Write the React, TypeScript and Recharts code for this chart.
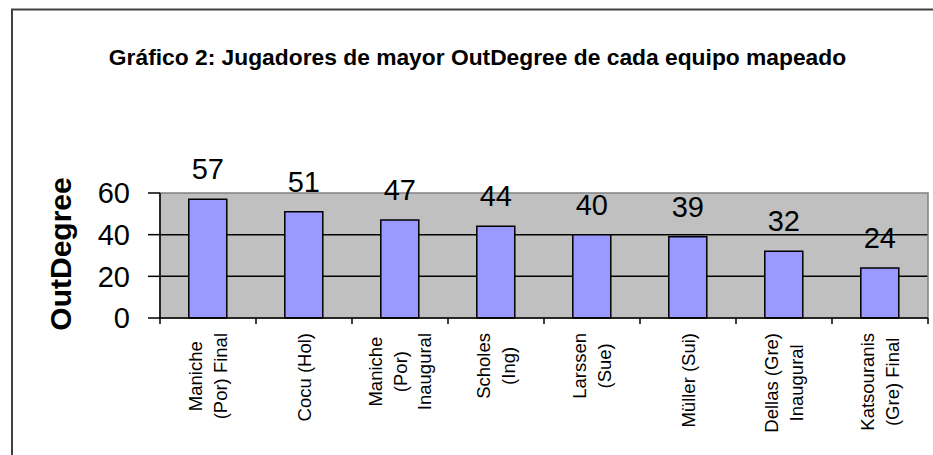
import React from "react";
import {
  BarChart,
  Bar,
  XAxis,
  YAxis,
  CartesianGrid,
  LabelList,
  ReferenceArea,
} from "recharts";

// ---- Data ----
const categories = [
  "Maniche (Por) Final",
  "Cocu (Hol)",
  "Maniche (Por) Inaugural",
  "Scholes (Ing)",
  "Larssen (Sue)",
  "Müller (Sui)",
  "Dellas (Gre) Inaugural",
  "Katsouranis (Gre) Final",
];
const outDegree = [57, 51, 47, 44, 40, 39, 32, 24];
const tickLabelLines = [
  ["Maniche", "(Por) Final"],
  ["Cocu (Hol)"],
  ["Maniche", "(Por)", "Inaugural"],
  ["Scholes", "(Ing)"],
  ["Larssen", "(Sue)"],
  ["Müller (Sui)"],
  ["Dellas (Gre)", "Inaugural"],
  ["Katsouranis", "(Gre) Final"],
];
const yTicks = [0, 20, 40, 60];
const gridValues = [20, 40];
const title = "Gráfico 2: Jugadores de mayor OutDegree de cada equipo mapeado";
const yLabel = "OutDegree";

const data = categories.map((name, i) => ({ name, value: outDegree[i] }));

// ---- Layout ----
const W = 933;
const H = 455;
const MARGIN = { top: 193, right: 5, bottom: 7, left: 0 };
const Y_AXIS_W = 160;
const X_AXIS_H = 130;
const BAND = (W - MARGIN.left - Y_AXIS_W - MARGIN.right) / categories.length;
const FONT = "'Liberation Sans', Arial, sans-serif";
const X_FS = 18.5;
const X_LINE = 24.5;

let ctx: CanvasRenderingContext2D | null = null;
function measure(s: string, font: string): number {
  if (!ctx) {
    const c = document.createElement("canvas");
    ctx = c.getContext("2d");
  }
  if (!ctx) return s.length * 9;
  ctx.font = font;
  return ctx.measureText(s).width;
}

function XTick(props: any) {
  const { x, y, payload } = props;
  const idx = categories.indexOf(payload.value);
  const lines = tickLabelLines[idx] || [String(payload.value)];
  const n = lines.length;
  const maxW = Math.max(...lines.map((l) => measure(l, `${X_FS}px 'Liberation Sans'`)));
  const cy = y + 15 + maxW / 2;
  return (
    <g>
      <line x1={x - BAND / 2} y1={y} x2={x - BAND / 2} y2={y + 6} stroke="#000" strokeWidth={1.5} />
      {idx === categories.length - 1 && (
        <line x1={x + BAND / 2} y1={y} x2={x + BAND / 2} y2={y + 6} stroke="#000" strokeWidth={1.5} />
      )}
      {lines.map((ln, i) => (
        <text
          key={i}
          transform={`translate(${x + (i - (n - 1) / 2) * X_LINE}, ${cy}) rotate(-90)`}
          textAnchor="middle"
          dominantBaseline="central"
          fontSize={X_FS}
          fontFamily={FONT}
          fill="#000"
        >
          {ln}
        </text>
      ))}
    </g>
  );
}

export default function App() {
  return (
    <div style={{ position: "absolute", left: 0, top: 0, width: W, height: H, overflow: "hidden", background: "#fff" }}>
      <div style={{ position: "absolute", left: 0, top: 0 }}>
        <BarChart width={W} height={H} data={data} margin={MARGIN} barCategoryGap="30%">
          <CartesianGrid
            fill="#c0c0c0"
            vertical={false}
            horizontalValues={gridValues}
            stroke="#000"
            strokeWidth={1.5}
          />
          <ReferenceArea y1={0} y2={60} fill="none" stroke="#808080" strokeWidth={1.5} />
          <XAxis
            dataKey="name"
            height={X_AXIS_H}
            interval={0}
            tickSize={0}
            tickMargin={0}
            tickLine={false}
            axisLine={{ stroke: "#000", strokeWidth: 1.5 }}
            tick={<XTick />}
          />
          <YAxis
            width={Y_AXIS_W}
            domain={[0, 60]}
            ticks={yTicks}
            interval={0}
            tickSize={12}
            tickMargin={18}
            axisLine={{ stroke: "#000", strokeWidth: 1.5 }}
            tickLine={{ stroke: "#000", strokeWidth: 1.5 }}
            tick={{ fontSize: 29, fontFamily: FONT, fill: "#000" }}
            label={{
              content: () => (
                <text
                  transform="translate(60, 254) rotate(-90)"
                  textAnchor="middle"
                  dominantBaseline="central"
                  fontSize={30}
                  fontWeight="bold"
                  fontFamily={FONT}
                  fill="#000"
                >
                  {yLabel}
                </text>
              ),
            }}
          />
          <Bar dataKey="value" fill="#9999ff" stroke="#000" strokeWidth={1.5} isAnimationActive={false}>
            <LabelList dataKey="value" position="top" offset={20} fontSize={29} fontFamily={FONT} fill="#000" />
          </Bar>
        </BarChart>
      </div>
      <svg width={W} height={H} style={{ position: "absolute", left: 0, top: 0, pointerEvents: "none" }}>
        <text x={477.5} y={65} textAnchor="middle" fontSize={22.8} fontWeight="bold" fontFamily={FONT} fill="#000">
          {title}
        </text>
        <rect x={12} y={9.5} width={W + 20} height={H + 20} fill="none" stroke="#404040" strokeWidth={2} />
      </svg>
    </div>
  );
}
